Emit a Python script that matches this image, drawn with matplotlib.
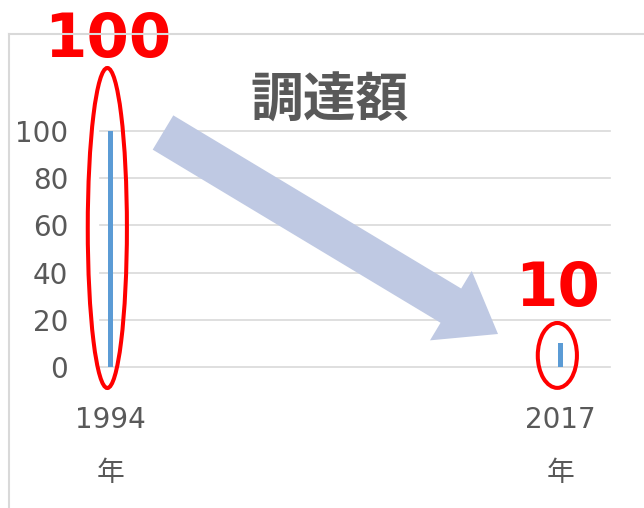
import matplotlib
matplotlib.use("Agg")
import matplotlib.pyplot as plt
from matplotlib.patches import Ellipse, FancyArrow
from matplotlib.lines import Line2D

plt.rcParams['font.family'] = ['DejaVu Sans', 'Noto Sans CJK JP']

years = ["1994", "2017"]
amounts = [100, 10]
y_ticks = [0, 20, 40, 60, 80, 100]
title = "調達額"

gray = "#595959"
grid = "#D9D9D9"
bar_color = "#5B9BD5"
red = "#FF0000"

fig = plt.figure(figsize=(6.44, 5.08), dpi=100)
ax = fig.add_axes([100 / 644, 141 / 508, 510 / 644, 236 / 508])

x = list(range(len(years)))
ax.bar(x, amounts, width=0.011, color=bar_color, zorder=3)

ax.set_xlim(-0.0233, 1.11)
ax.set_ylim(0, 100)
ax.set_yticks(y_ticks)
ax.set_xticks(x)
ax.set_xticklabels([y + "\n年" for y in years], linespacing=2.15)
ax.grid(axis="y", color=grid, linewidth=1.2)
for gl in ax.get_ygridlines():
    gl.set_clip_on(False)
ax.set_axisbelow(True)
for s in ax.spines.values():
    s.set_visible(False)
ax.tick_params(axis="both", length=0, labelsize=20, labelcolor=gray)
ax.tick_params(axis="y", pad=23)
ax.tick_params(axis="x", pad=28)

# red circles and labels around the bars
ell_spec = [(58.9, 135.6), (4.9, 27.5)]
label_y = [138.5, 33.0]
for i, v in enumerate(amounts):
    cy, h = ell_spec[i]
    e = Ellipse((x[i] - 0.007, cy), 0.087, h, fill=False, edgecolor=red,
                linewidth=2.9, clip_on=False, zorder=4)
    ax.add_patch(e)
    ax.text(x[i] - 0.006, label_y[i], str(v), color=red, fontsize=44,
            fontweight="bold", ha="center", va="center", clip_on=False)

# big arrow (inches, figure coords)
arrow = FancyArrow(1.63, 3.755, 3.35, -2.015, width=0.40, head_width=0.81,
                   head_length=0.55, length_includes_head=True,
                   color="#BFC9E3", linewidth=0, transform=fig.dpi_scale_trans)
fig.add_artist(arrow)

fig.text(330 / 644, 1 - 101 / 508, title, family="Noto Sans CJK JP",
         fontweight="bold", fontsize=38, color=gray, ha="center", va="center")

# chart area border
fig.add_artist(Line2D([9 / 644, 1], [1 - 34 / 508] * 2, color=grid, linewidth=1.5,
                      transform=fig.transFigure))
fig.add_artist(Line2D([9 / 644] * 2, [0, 1 - 34 / 508], color=grid, linewidth=1.5,
                      transform=fig.transFigure))

fig.savefig("out.png", dpi=100)
